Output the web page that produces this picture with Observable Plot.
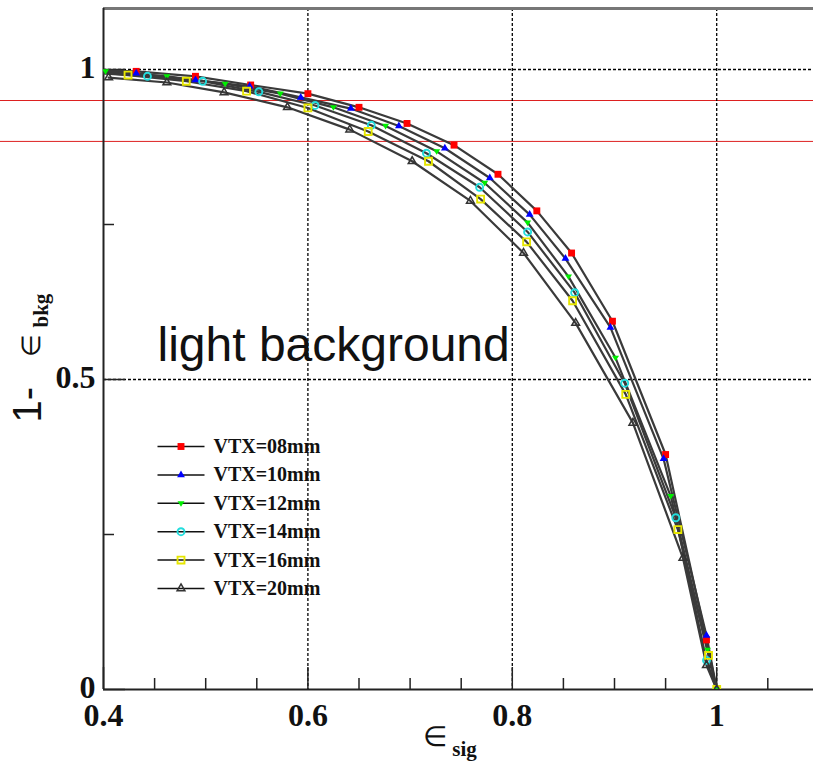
<!DOCTYPE html>
<html><head><meta charset="utf-8">
<script src="https://cdn.jsdelivr.net/npm/d3@7"></script>
<script src="https://cdn.jsdelivr.net/npm/@observablehq/plot@0.6"></script>
<style>html,body{margin:0;padding:0;background:#fff;overflow:hidden}</style>
</head><body><div id="chart"></div>
<script>
// ---- data ----
const seriesNames = ["VTX=08mm", "VTX=10mm", "VTX=12mm", "VTX=14mm", "VTX=16mm", "VTX=20mm"];
const sig08 = [0.376, 0.432, 0.490, 0.544, 0.600, 0.650, 0.697, 0.743, 0.786, 0.824, 0.858, 0.898, 0.950, 0.990, 1.0];
const rej08 = [0.9995, 0.997, 0.989, 0.975, 0.961, 0.939, 0.913, 0.878, 0.831, 0.772, 0.704, 0.594, 0.379, 0.080, 0.0];
const sig10 = [0.377, 0.432, 0.490, 0.543, 0.593, 0.642, 0.689, 0.734, 0.778, 0.817, 0.852, 0.896, 0.948, 0.990, 1.0];
const rej10 = [0.999, 0.994, 0.983, 0.973, 0.955, 0.937, 0.909, 0.873, 0.825, 0.766, 0.695, 0.584, 0.372, 0.087, 0.0];
const sig12 = [0.402, 0.462, 0.519, 0.573, 0.625, 0.676, 0.726, 0.773, 0.815, 0.855, 0.901, 0.955, 0.991, 1.0];
const rej12 = [0.997, 0.989, 0.977, 0.961, 0.939, 0.909, 0.868, 0.817, 0.753, 0.666, 0.535, 0.312, 0.064, 0.0];
const sig14 = [0.389, 0.443, 0.497, 0.552, 0.607, 0.662, 0.716, 0.768, 0.815, 0.861, 0.910, 0.960, 0.990, 1.0];
const rej14 = [0.996, 0.989, 0.981, 0.964, 0.942, 0.910, 0.865, 0.810, 0.738, 0.640, 0.494, 0.277, 0.047, 0.0];
const sig16 = [0.366, 0.424, 0.481, 0.540, 0.600, 0.659, 0.718, 0.769, 0.814, 0.859, 0.911, 0.962, 0.992, 1.0];
const rej16 = [0.997, 0.991, 0.981, 0.965, 0.938, 0.900, 0.852, 0.791, 0.722, 0.627, 0.476, 0.258, 0.055, 0.0];
const sig20 = [0.405, 0.462, 0.518, 0.580, 0.641, 0.702, 0.759, 0.811, 0.862, 0.918, 0.967, 0.990, 1.0];
const rej20 = [0.987, 0.979, 0.963, 0.939, 0.903, 0.852, 0.788, 0.704, 0.591, 0.430, 0.212, 0.039, 0.0];

const xTickLabels = [0.4, 0.6, 0.8, 1];
const yTickLabels = [0.5, 1];
const yZeroLabel = [0];
const xMinorTicks = [0.45, 0.5, 0.55, 0.65, 0.7, 0.75, 0.85, 0.9, 0.95, 1.05];
const yMinorTicks = [0.25, 0.75];
const xGrid = [0.6, 0.8, 1.0];
const yGrid = [0.5, 1.0];
const redLines = [0.950, 0.884];
const annotation = "light background";

// ---- layout ----
const W = 813, H = 764, ML = 103, MR = 0, MT = 8, MB = 75;
const xDom = [0.4, 0.4 + (W - ML - MR) / 1022];
const yDom = [0, (H - MB - MT) / 620];
const px2x = px => xDom[0] + (px - ML) * (xDom[1] - xDom[0]) / (W - ML - MR);
const py2y = py => yDom[0] + (H - MB - py) * (yDom[1] - yDom[0]) / (H - MB - MT);

const triangleDown = {
  draw(ctx, size) {
    const r = Math.sqrt(size / Math.PI) * 1.25;
    ctx.moveTo(-r, -r * 0.6); ctx.lineTo(r, -r * 0.6); ctx.lineTo(0, r); ctx.closePath();
  }
};
const styles = [
  {symbol: "square", r: 3.9, fill: "#ff0000", stroke: "none", sw: 0},
  {symbol: "triangle", r: 2.9, fill: "#0000ff", stroke: "none", sw: 0},
  {symbol: triangleDown, r: 2.8, fill: "#00ee00", stroke: "none", sw: 0},
  {symbol: "circle", r: 3.5, fill: "none", stroke: "#22dddd", sw: 1.9},
  {symbol: "square", r: 3.9, fill: "none", stroke: "#e6e600", sw: 1.9},
  {symbol: "triangle", r: 2.9, fill: "none", stroke: "#333333", sw: 1.5}
];
const xs = [sig08, sig10, sig12, sig14, sig16, sig20];
const ys = [rej08, rej10, rej12, rej14, rej16, rej20];
const rows = seriesNames.flatMap((name, i) => xs[i].map((x, j) => ({name, x, y: ys[i][j]})));

const legendRows = seriesNames.map((name, i) => ({name, i, y: py2y(446 + i * 28.4)}));

const serif = "'Liberation Serif', 'Times New Roman', serif";
const sans = "'Liberation Sans', Arial, sans-serif";
const midY = (MT + H - MB) / 2;
const tickFont = {fontFamily: serif, fontWeight: "bold", fontSize: 32, fill: "#111"};

const marks = [
  // red annotation lines (across the whole picture)
  Plot.ruleY(redLines, {y: d => d, x1: px2x(0), x2: xDom[1], stroke: "#dd2020", strokeWidth: 1}),
  // dashed grid
  Plot.ruleX(xGrid, {x: d => d, stroke: "#000", strokeWidth: 1.3, strokeDasharray: "3,2"}),
  Plot.ruleY(yGrid, {y: d => d, stroke: "#000", strokeWidth: 1.3, strokeDasharray: "3,2"}),
  // frame
  Plot.ruleY([yDom[1]], {y: d => d, stroke: "#777", strokeWidth: 3}),
  Plot.ruleX([xDom[0]], {x: d => d, stroke: "#222", strokeWidth: 2}),
  Plot.ruleY([0], {y: d => d, stroke: "#222", strokeWidth: 2}),
  // inward ticks
  Plot.tickX(xMinorTicks, {x: d => d, stroke: "#222", strokeWidth: 1.5, insetTop: (H - MB - MT) - 11}),
  Plot.tickX(xTickLabels, {x: d => d, stroke: "#222", strokeWidth: 1.5, insetTop: (H - MB - MT) - 22}),
  Plot.tickY(yMinorTicks, {y: d => d, stroke: "#222", strokeWidth: 1.5, insetRight: (W - ML - MR) - 11}),
  Plot.tickY([...yZeroLabel, ...yTickLabels], {y: d => d, stroke: "#222", strokeWidth: 1.5, insetRight: (W - ML - MR) - 22}),
  // curves
  Plot.line(rows, {x: "x", y: "y", z: "name", stroke: "#3a3a3a", strokeWidth: 2.2, clip: true}),
  ...seriesNames.map((name, i) => Plot.dot(rows.filter(d => d.name === name), {
    x: "x", y: "y", symbol: styles[i].symbol, r: styles[i].r,
    fill: styles[i].fill, stroke: styles[i].stroke, strokeWidth: styles[i].sw, clip: true
  })),
  // legend
  Plot.link(legendRows, {x1: px2x(157), x2: px2x(204), y1: "y", y2: "y", stroke: "#111", strokeWidth: 1.5}),
  ...legendRows.map(d => Plot.dot([d], {
    x: px2x(180.5), y: "y", symbol: styles[d.i].symbol, r: styles[d.i].r,
    fill: styles[d.i].fill, stroke: styles[d.i].stroke, strokeWidth: styles[d.i].sw
  })),
  Plot.text(legendRows, {x: px2x(213), y: "y", text: "name", textAnchor: "start",
    fontFamily: serif, fontWeight: "bold", fontSize: 20, fill: "#111"}),
  // tick labels
  Plot.text(xTickLabels, {x: d => d, frameAnchor: "bottom", lineAnchor: "top", dy: 14,
    text: d => String(d), ...tickFont}),
  Plot.text(yTickLabels, {y: d => d, frameAnchor: "left", textAnchor: "end", dx: -8, dy: -2,
    text: d => String(d), ...tickFont}),
  Plot.text(yZeroLabel, {y: d => d, frameAnchor: "left", textAnchor: "end", lineAnchor: "bottom", dx: -8, dy: 8,
    text: d => String(d), ...tickFont}),
  // axis titles
  Plot.text(["∈"], {frameAnchor: "bottom", dx: 434 - (ML + W) / 2, dy: 56, text: d => d,
    fontFamily: serif, fontSize: 28, fill: "#111"}),
  Plot.text(["sig"], {frameAnchor: "bottom", dx: 464 - (ML + W) / 2, dy: 66, text: d => d,
    fontFamily: serif, fontWeight: "bold", fontSize: 21, fill: "#111"}),
  Plot.text(["1-"], {frameAnchor: "left", dx: 28 - ML, dy: 422 - midY, rotate: -90,
    text: d => d, fontFamily: sans, fontSize: 40, fill: "#111"}),
  Plot.text(["∈"], {frameAnchor: "left", dx: 31 - ML, dy: 356 - midY, rotate: -90,
    text: d => d, fontFamily: serif, fontSize: 26, fill: "#111"}),
  Plot.text(["bkg"], {frameAnchor: "left", dx: 41 - ML, dy: 327 - midY, rotate: -90,
    text: d => d, fontFamily: serif, fontWeight: "bold", fontSize: 21, fill: "#111"}),
  // annotation
  Plot.text([annotation], {frameAnchor: "top-left", dx: 157 - ML, dy: 326 - MT, textAnchor: "start",
    text: d => d, fontFamily: sans, fontSize: 48, fill: "#111"})
];

const chart = Plot.plot({
  width: W, height: H,
  marginLeft: ML, marginRight: MR, marginTop: MT, marginBottom: MB,
  x: {domain: xDom, axis: null},
  y: {domain: yDom, axis: null},
  style: {background: "#fff", overflow: "visible"},
  marks
});
document.getElementById("chart").appendChild(chart);
</script>
</body></html>
